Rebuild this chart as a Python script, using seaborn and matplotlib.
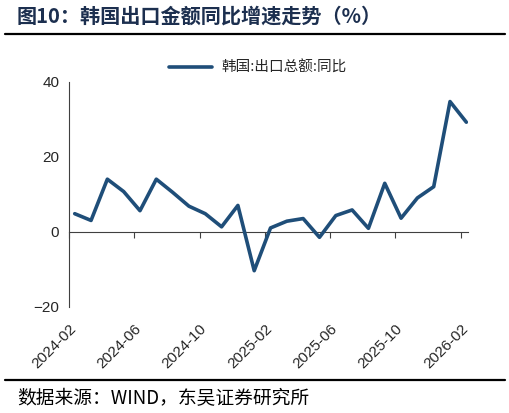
import matplotlib
matplotlib.use('Agg')
import matplotlib.pyplot as plt
import numpy as np
import pandas as pd
import seaborn as sns

# 月份与同比数据（%），读自原图
months = ['2024-02', '2024-03', '2024-04', '2024-05', '2024-06', '2024-07', '2024-08',
          '2024-09', '2024-10', '2024-11', '2024-12', '2025-01', '2025-02', '2025-03',
          '2025-04', '2025-05', '2025-06', '2025-07', '2025-08', '2025-09', '2025-10',
          '2025-11', '2025-12', '2026-01', '2026-02']
yoy = [4.8, 3.0, 14.0, 10.7, 5.6, 14.0, 10.5, 6.8, 4.8, 1.3, 7.0, -10.4, 1.0, 2.8,
       3.5, -1.5, 4.3, 5.8, 0.9, 12.9, 3.6, 9.0, 12.0, 34.7, 29.2]
tick_labels = ['2024-02', '2024-06', '2024-10', '2025-02', '2025-06', '2025-10', '2026-02']
series_name = '韩国:出口总额:同比'

sns.set_style('white')
plt.rcParams['font.family'] = ['Noto Sans CJK SC', 'DejaVu Sans']

df = pd.DataFrame({'month': months, 'value': yoy})
df['x'] = np.arange(len(df)) + 0.35  # 数据点落在月中
df['name'] = series_name

fig = plt.figure(figsize=(5.1, 4.13), dpi=100)
ax = fig.add_axes([0.1353, 0.2574, 0.7823, 0.5448])

sns.lineplot(data=df, x='x', y='value', hue='name', palette=['#1F4E79'],
             linewidth=2.6, ax=ax, legend=True)
ax.lines[0].set_solid_joinstyle('round')
ax.lines[0].set_solid_capstyle('round')

ax.set_xlim(0, len(df) - 1 + 0.45)
ax.set_ylim(-20, 40)
ax.set_yticks([-20, 0, 20, 40])
ax.set_xlabel('')
ax.set_ylabel('')

tick_pos = [months.index(t) for t in tick_labels]
ax.set_xticks(tick_pos)
ax.set_xticklabels(tick_labels, rotation=45, ha='right', rotation_mode='anchor',
                   fontsize=11, family='Liberation Sans')
ax.tick_params(axis='x', length=0, pad=11)
ax.tick_params(axis='y', direction='out', length=4, width=0.8, color='#404040',
               labelsize=11, pad=3)
for lb in ax.get_yticklabels():
    lb.set_family('Liberation Sans')

for s in ['top', 'right', 'bottom']:
    ax.spines[s].set_visible(False)
ax.spines['left'].set_color('#404040')
ax.spines['left'].set_linewidth(0.8)

# 零轴及刻度
sec = ax.secondary_xaxis(1 / 3)
sec.set_xticks(tick_pos)
sec.tick_params(axis='x', direction='out', length=4, width=0.8, color='#404040',
                labelbottom=False, labeltop=False, top=False, bottom=True)
sec.spines['bottom'].set_color('#404040')
sec.spines['bottom'].set_linewidth(0.8)
sec.spines['top'].set_visible(False)

handles, labels = ax.get_legend_handles_labels()
ax.legend(handles, labels, loc='center', bbox_to_anchor=(0.505, 0.836),
          bbox_transform=fig.transFigure, frameon=False, fontsize=10.5,
          handlelength=3.0, handletextpad=0.6)

fig.text(0.033, 0.962, '图10：韩国出口金额同比增速走势（%）', fontsize=14.5, fontweight='bold',
         color='#1C2F4F', va='center', ha='left')
fig.add_artist(plt.Line2D([0.01, 0.99], [0.918, 0.918], color='black', linewidth=1.6,
                          transform=fig.transFigure))
fig.add_artist(plt.Line2D([0.01, 0.99], [0.081, 0.081], color='black', linewidth=1.6,
                          transform=fig.transFigure))
fig.text(0.033, 0.036, '数据来源：WIND，东吴证券研究所', fontsize=13.5, color='black',
         va='center', ha='left')

fig.savefig('out.png', dpi=100)
